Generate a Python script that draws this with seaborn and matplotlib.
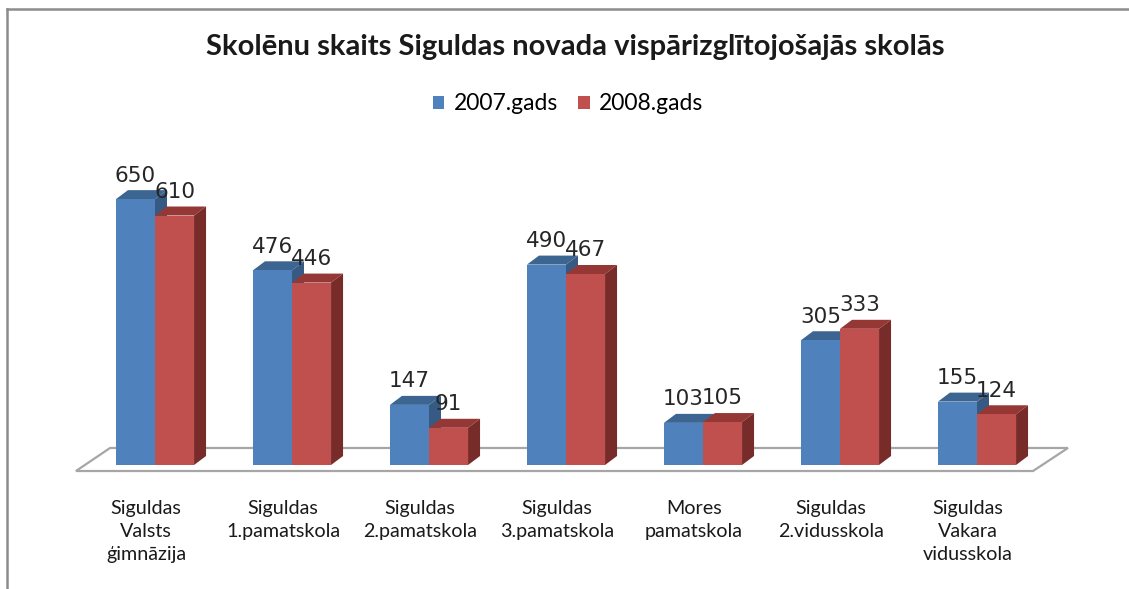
import pandas as pd
import seaborn as sns
import matplotlib.pyplot as plt
import matplotlib.transforms as mtransforms
from matplotlib.patches import Polygon
from matplotlib.lines import Line2D

OUTPUT_PATH = "out.png"

TITLE = "Skolēnu skaits Siguldas novada vispārizglītojošajās skolās"
schools = [
    "Siguldas\nValsts\nģimnāzija",
    "Siguldas\n1.pamatskola",
    "Siguldas\n2.pamatskola",
    "Siguldas\n3.pamatskola",
    "Mores\npamatskola",
    "Siguldas\n2.vidusskola",
    "Siguldas\nVakara\nvidusskola",
]
years = ["2007.gads", "2008.gads"]
students_2007 = [650, 476, 147, 490, 103, 305, 155]
students_2008 = [610, 446, 91, 467, 105, 333, 124]

FRONT = ["#4f81bd", "#c0504d"]
TOP = ["#3c6592", "#953735"]
SIDE = ["#375a85", "#772c2a"]


def build_frame():
    df = pd.DataFrame({"skola": schools * 2,
                       "gads": [years[0]] * len(schools) + [years[1]] * len(schools),
                       "skolēni": students_2007 + students_2008})
    return df


def plot_bars(df):
    fig = plt.figure(figsize=(11.29, 5.89), dpi=100)
    # pixel layout of the original: group centres at 155 + 137*i, baseline at y=465
    px_per_cat = 137.0
    px_per_unit = 0.409
    xmin, xmax = -0.6, 6.75
    ymax = 700
    left = (155 + xmin * px_per_cat) / 1129
    width = (xmax - xmin) * px_per_cat / 1129
    bottom = (589 - 465) / 589
    height = ymax * px_per_unit / 589
    ax = fig.add_axes([left, bottom, width, height])

    sns.barplot(data=df, x="skola", y="skolēni", hue="gads", palette=FRONT,
                width=0.57, saturation=1, linewidth=0, ax=ax)
    ax.set_xlim(xmin, xmax)
    ax.set_ylim(0, ymax)

    dx = 12 / px_per_cat
    dy = 9 / px_per_unit

    # floor
    floor = Polygon([(-0.577, -14.7), (6.409, -14.7), (6.664, 41.6), (-0.328, 41.6)],
                    closed=True, facecolor="white", edgecolor="#a6a6a6",
                    linewidth=1.6, zorder=0.5, clip_on=False)
    ax.add_patch(floor)

    n = len(schools)
    bars = [p for p in ax.patches if p is not floor]
    for i, bar in enumerate(bars[:2 * n]):
        k = i // n
        z = 2 + k
        bar.set_zorder(z)
        x0, w, h = bar.get_x(), bar.get_width(), bar.get_height()
        top = Polygon([(x0, h), (x0 + w, h), (x0 + w + dx, h + dy), (x0 + dx, h + dy)],
                      closed=True, facecolor=TOP[k], edgecolor="none", zorder=z - 0.1,
                      clip_on=False)
        side = Polygon([(x0 + w, 0), (x0 + w + dx, dy), (x0 + w + dx, h + dy), (x0 + w, h)],
                       closed=True, facecolor=SIDE[k], edgecolor="none", zorder=z - 0.1,
                       clip_on=False)
        ax.add_patch(top)
        ax.add_patch(side)
        ax.text(x0 + w / 2, h + 43, f"{int(h)}", ha="center", va="baseline",
                fontsize=15.5, family="DejaVu Sans", color="#262626", zorder=5,
                clip_on=False)

    sns.despine(ax=ax, left=True, bottom=True)
    ax.set_yticks([])
    ax.set_xlabel("")
    ax.set_ylabel("")
    ax.tick_params(axis="x", length=0, pad=25)
    ax.set_xticks(range(n))
    ax.set_xticklabels(schools, family="Lato", fontsize=14.2, color="#1a1a1a",
                       linespacing=1.45, va="top")
    shift = mtransforms.ScaledTranslation(-9 / 100, 0, fig.dpi_scale_trans)
    for lbl in ax.get_xticklabels():
        lbl.set_transform(lbl.get_transform() + shift)

    sns.move_legend(ax, "center", bbox_to_anchor=(568 / 1129, 1 - 104 / 589),
                    bbox_transform=fig.transFigure, ncol=2, frameon=False, title=None,
                    prop={"family": "Lato", "size": 16.5}, handlelength=0.5,
                    handleheight=0.5, handletextpad=0.4, columnspacing=0.9)

    fig.text(575 / 1129, 1 - 47 / 589, TITLE, ha="center", va="center",
             fontsize=21, fontweight="bold", family="Lato", color="#1a1a1a")

    # chart frame (top and left edges visible)
    fig.add_artist(Line2D([7 / 1129, 7 / 1129], [0, 1 - 9 / 589], transform=fig.transFigure,
                          color="#8c8c8c", linewidth=1.8))
    fig.add_artist(Line2D([7 / 1129, 1], [1 - 9 / 589, 1 - 9 / 589], transform=fig.transFigure,
                          color="#8c8c8c", linewidth=1.8))

    fig.savefig(OUTPUT_PATH, dpi=100, facecolor="white")
    print(f"Saved: {OUTPUT_PATH}")


if __name__ == "__main__":
    plot_bars(build_frame())
